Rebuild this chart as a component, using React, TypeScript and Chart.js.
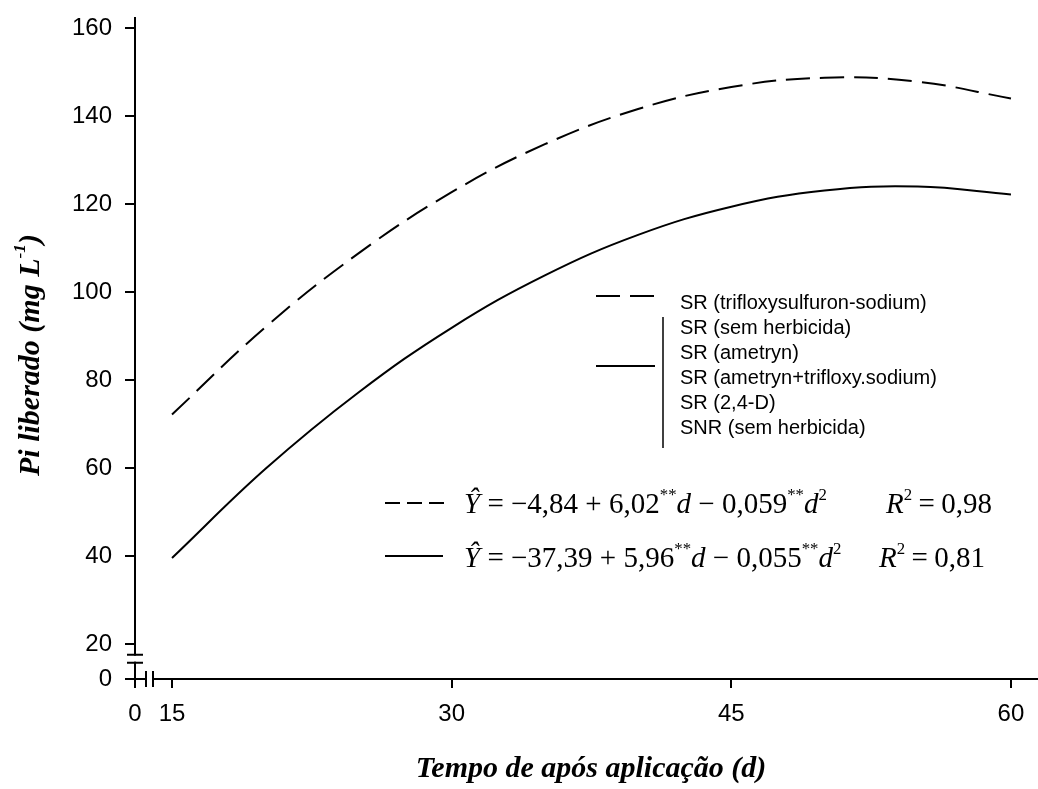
import React, { useEffect, useRef } from 'react';
import { Chart, registerables } from 'chart.js';

Chart.register(...registerables);

// ---- data ----
const days = [15, 20, 25, 30, 35, 40, 45, 50, 55, 60];
const trifloxySeries = [72.2, 92.0, 108.8, 122.7, 133.6, 141.6, 146.6, 148.7, 147.8, 144.0];
const groupSeries = [39.6, 59.8, 77.2, 91.9, 103.8, 113.0, 119.4, 123.1, 124.0, 122.2];

const xTickValues = [0, 15, 30, 45, 60];
const xTickLabels = ['0', '15', '30', '45', '60'];
const yTickValues = [0, 20, 40, 60, 80, 100, 120, 140, 160];
const yTickLabels = ['0', '20', '40', '60', '80', '100', '120', '140', '160'];

const legendLabels = [
  'SR (trifloxysulfuron-sodium)',
  'SR (sem herbicida)',
  'SR (ametryn)',
  'SR (ametryn+trifloxy.sodium)',
  'SR (2,4-D)',
  'SNR (sem herbicida)',
];

// broken axes: the "0" tick sits just past the break
const X_ZERO_POS = 13.015;
const X_MAX = 61.45;
const Y_ZERO_POS = 12.12;
const Y_MAX = 162.27;

const SANS = '"Liberation Sans", Arial, sans-serif';
const SERIF = '"Liberation Serif", "Times New Roman", serif';

const decorPlugin = {
  id: 'decor',
  afterDraw(chart: any) {
    const { ctx, scales } = chart;
    const x = scales.x;
    const y = scales.y;
    ctx.save();
    ctx.strokeStyle = '#000';
    ctx.fillStyle = '#fff';
    ctx.lineWidth = 2;
    ctx.setLineDash([]);

    // y-axis break
    const ax = x.left;
    const ym = (y.getPixelForValue(Y_ZERO_POS) + y.getPixelForValue(20)) / 2 - 3;
    ctx.fillRect(ax - 3, ym - 3, 6, 6);
    ctx.beginPath();
    ctx.moveTo(ax - 8, ym - 4);
    ctx.lineTo(ax + 8, ym - 4);
    ctx.moveTo(ax - 8, ym + 4);
    ctx.lineTo(ax + 8, ym + 4);
    ctx.stroke();

    // x-axis break
    const ay = y.bottom;
    const xm = (x.getPixelForValue(X_ZERO_POS) + x.getPixelForValue(15)) / 2 - 4;
    ctx.fillRect(xm - 3, ay - 3, 6, 6);
    ctx.beginPath();
    ctx.moveTo(xm - 3.5, ay - 8);
    ctx.lineTo(xm - 3.5, ay + 8);
    ctx.moveTo(xm + 3.5, ay - 8);
    ctx.lineTo(xm + 3.5, ay + 8);
    ctx.stroke();

    // legend samples (upper legend)
    ctx.lineWidth = 2;
    ctx.setLineDash([24, 10]);
    ctx.beginPath();
    ctx.moveTo(596, 296);
    ctx.lineTo(655, 296);
    ctx.stroke();
    ctx.setLineDash([]);
    ctx.beginPath();
    ctx.moveTo(596, 366);
    ctx.lineTo(655, 366);
    ctx.stroke();
    ctx.lineWidth = 1.5;
    ctx.beginPath();
    ctx.moveTo(663, 317);
    ctx.lineTo(663, 448);
    ctx.stroke();

    // equation samples
    ctx.lineWidth = 2;
    ctx.setLineDash([15, 7]);
    ctx.beginPath();
    ctx.moveTo(385, 503);
    ctx.lineTo(446, 503);
    ctx.stroke();
    ctx.setLineDash([]);
    ctx.beginPath();
    ctx.moveTo(385, 556);
    ctx.lineTo(443, 556);
    ctx.stroke();
    ctx.restore();
  },
};

const supStyle: React.CSSProperties = { fontSize: '58%', position: 'relative', top: '-0.78em', fontStyle: 'normal' };
const eqStyle: React.CSSProperties = {
  position: 'absolute',
  fontFamily: SERIF,
  fontSize: 29,
  lineHeight: '29px',
  whiteSpace: 'nowrap',
  color: '#000',
};
const wideEq: React.CSSProperties = { margin: '0 0.22em' };

export default function App() {
  const ref = useRef<HTMLCanvasElement>(null);

  useEffect(() => {
    document.body.style.margin = '0';
    const canvas = ref.current;
    if (!canvas) return;
    const chart = new Chart(canvas, {
      type: 'line',
      data: {
        labels: days,
        datasets: [
          {
            label: 'SR (trifloxysulfuron-sodium)',
            data: days.map((d, i) => ({ x: d, y: trifloxySeries[i] })),
            borderColor: '#000',
            borderWidth: 2,
            borderDash: [24, 10],
            pointRadius: 0,
            fill: false,
            tension: 0.4,
          },
          {
            label: 'Demais tratamentos',
            data: days.map((d, i) => ({ x: d, y: groupSeries[i] })),
            borderColor: '#000',
            borderWidth: 2,
            pointRadius: 0,
            fill: false,
            tension: 0.4,
          },
        ],
      },
      options: {
        animation: false,
        responsive: false,
        devicePixelRatio: 1,
        layout: { padding: { top: 18, right: 0, left: 0, bottom: 0 } },
        plugins: { legend: { display: false }, tooltip: { enabled: false } },
        scales: {
          x: {
            type: 'linear',
            min: X_ZERO_POS,
            max: X_MAX,
            afterBuildTicks: (s: any) => {
              s.ticks = xTickValues.map((v) => ({ value: v === 0 ? X_ZERO_POS : v }));
            },
            afterFit: (s: any) => {
              s.height = 110;
              s.paddingLeft = 0;
              s.paddingRight = 0;
            },
            ticks: {
              autoSkip: false,
              maxRotation: 0,
              color: '#000',
              padding: 12,
              font: { family: SANS, size: 24 },
              callback: (_v: any, i: number) => xTickLabels[i],
            },
            grid: { drawOnChartArea: false, drawTicks: true, tickLength: 9, color: '#000', lineWidth: 2 },
            border: { display: true, color: '#000', width: 2 },
          },
          y: {
            type: 'linear',
            min: Y_ZERO_POS,
            max: Y_MAX,
            afterBuildTicks: (s: any) => {
              s.ticks = yTickValues.map((v) => ({ value: v === 0 ? Y_ZERO_POS : v }));
            },
            afterFit: (s: any) => {
              s.width = 135;
              s.paddingTop = 0;
              s.paddingBottom = 0;
            },
            ticks: {
              autoSkip: false,
              color: '#000',
              padding: 13,
              font: { family: SANS, size: 24 },
              callback: (_v: any, i: number) => yTickLabels[i],
            },
            grid: { drawOnChartArea: false, drawTicks: true, tickLength: 10, color: '#000', lineWidth: 2 },
            border: { display: true, color: '#000', width: 2 },
          },
        },
      },
      plugins: [decorPlugin],
    });
    return () => chart.destroy();
  }, []);

  const legendTops = [302, 327, 352, 377, 402, 427];

  return (
    <div style={{ position: 'relative', width: 1038, height: 789, background: '#fff', overflow: 'hidden' }}>
      <canvas ref={ref} width={1038} height={789} style={{ position: 'absolute', left: 0, top: 0, width: 1038, height: 789 }} />

      {/* y-axis title */}
      <div
        style={{
          position: 'absolute',
          left: 31,
          top: 355,
          transform: 'translate(-50%, -50%) rotate(-90deg)',
          whiteSpace: 'nowrap',
          fontFamily: SERIF,
          fontWeight: 'bold',
          fontStyle: 'italic',
          fontSize: 30,
          lineHeight: '30px',
        }}
      >
        Pi liberado (mg L<span style={{ ...supStyle, fontStyle: 'italic' }}>-1</span>)
      </div>

      {/* x-axis title */}
      <div
        style={{
          position: 'absolute',
          left: 591,
          top: 767,
          transform: 'translate(-50%, -50%)',
          whiteSpace: 'nowrap',
          fontFamily: SERIF,
          fontWeight: 'bold',
          fontStyle: 'italic',
          fontSize: 30,
          lineHeight: '30px',
        }}
      >
        Tempo de após aplicação (d)
      </div>

      {/* upper legend */}
      {legendLabels.map((t, i) => (
        <div
          key={t}
          style={{
            position: 'absolute',
            left: 680,
            top: legendTops[i] - 12,
            height: 24,
            lineHeight: '24px',
            fontFamily: SANS,
            fontSize: 20,
            whiteSpace: 'nowrap',
            color: '#000',
          }}
        >
          {t}
        </div>
      ))}

      {/* equations */}
      <div style={{ ...eqStyle, left: 464, top: 513 - 24 }}>
        <i>Ŷ</i> = −4,84 + 6,02<span style={supStyle}>**</span><i>d</i> − 0,059<span style={supStyle}>**</span><i>d</i>
        <span style={supStyle}>2</span>
      </div>
      <div style={{ ...eqStyle, left: 886, top: 513 - 24 }}>
        <i>R</i><span style={supStyle}>2</span><span style={wideEq}>=</span>0,98
      </div>
      <div style={{ ...eqStyle, left: 464, top: 567 - 24 }}>
        <i>Ŷ</i> = −37,39 + 5,96<span style={supStyle}>**</span><i>d</i> − 0,055<span style={supStyle}>**</span><i>d</i>
        <span style={supStyle}>2</span>
      </div>
      <div style={{ ...eqStyle, left: 879, top: 567 - 24 }}>
        <i>R</i><span style={supStyle}>2</span><span style={wideEq}>=</span>0,81
      </div>
    </div>
  );
}
